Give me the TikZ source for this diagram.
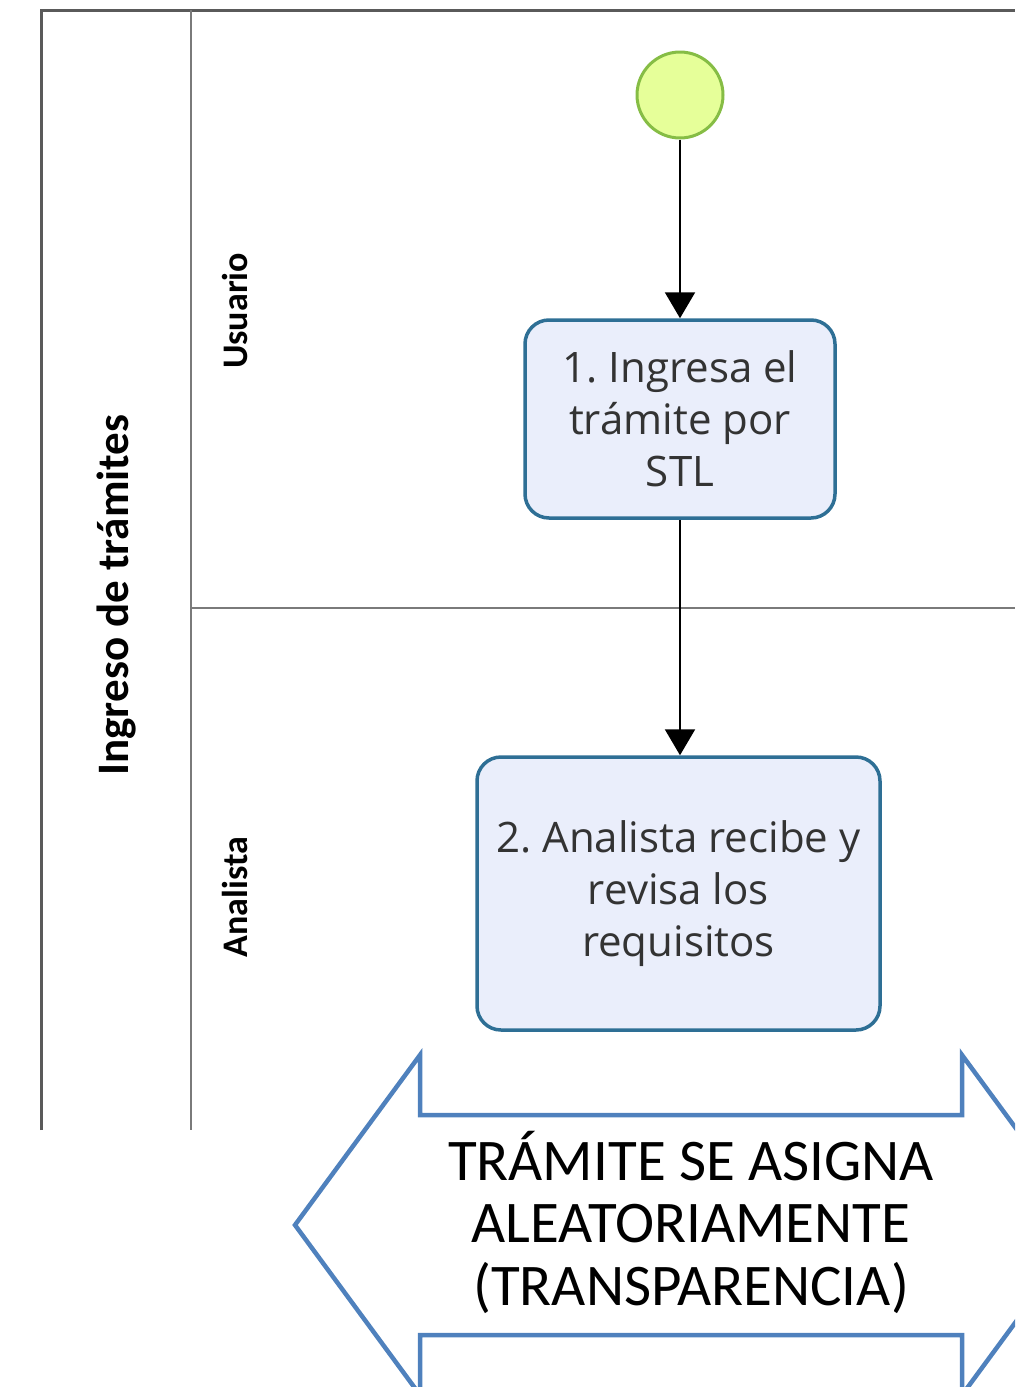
\documentclass[tikz,border=0pt]{standalone}
\usepackage{fontspec}
\setmainfont{Open Sans}
\newfontfamily\calib{Carlito}
\usetikzlibrary{arrows.meta}
\definecolor{poolline}{HTML}{5A5A5A}
\definecolor{laneline}{HTML}{7A7A7A}
\definecolor{startfill}{HTML}{E6FF99}
\definecolor{startdraw}{HTML}{86BD45}
\definecolor{taskfill}{HTML}{EAEEFB}
\definecolor{taskdraw}{HTML}{2E6F95}
\definecolor{bigarrow}{HTML}{4F81BD}
\definecolor{tasktext}{HTML}{333333}
\frenchspacing
\tikzset{
  taskbox/.style={draw=taskdraw, fill=taskfill, line width=3.5pt, rounded corners=24pt,
    align=center, font=\fontsize{42}{52}\selectfont, text=tasktext, inner sep=0pt},
  flow/.style={draw=black, line width=2.2pt, -{Triangle[width=30pt,length=26pt]}},
  lanelabel/.style={rotate=90, font=\calib\bfseries\fontsize{36}{36}\selectfont},
}
\begin{document}
\begin{tikzpicture}[x=1pt,y=-1pt]
\useasboundingbox (0,0) rectangle (1015,1387);
\begin{scope}
\clip (0,0) rectangle (1015,1387);
% pool and lanes
\draw[line width=3pt, draw=poolline] (41,1130) -- (41,10) -- (1015,10);
\draw[line width=2.5pt, draw=laneline] (191,10) -- (191,1130);
\draw[line width=2.5pt, draw=laneline] (191,608) -- (1015,608);
\node[lanelabel, font=\calib\bfseries\fontsize{45}{45}\selectfont] (pool) at (117,595) {Ingreso de trámites};
\node[lanelabel] (lane1) at (235,311) {Usuario};
\node[lanelabel] (lane2) at (235,897) {Analista};
% start event
\node[circle, draw=startdraw, fill=startfill, line width=3pt, minimum size=86pt, inner sep=0pt] (start) at (680,95) {};
% tasks
\node[taskbox, minimum width=310pt, minimum height=198pt] (t1) at (680,419) {1. Ingresa el\\trámite por\\STL};
\node[taskbox, minimum width=403pt, minimum height=273pt] (t2) at (678.5,893.5) {2. Analista recibe y\\revisa los\\requisitos};
\draw[flow] (start.south) -- (t1.north);
\draw[flow] (t1.south) -- (t1.south |- t2.north);
% double arrow
\draw[draw=bigarrow, line width=4.5pt, line join=miter]
  (295,1225) -- (420,1055) -- (420,1115) -- (962,1115) -- (962,1055) -- (1087,1225)
  -- (962,1395) -- (962,1335) -- (420,1335) -- (420,1395) -- cycle;
\node[align=center, font=\calib\fontsize{59}{62.5}\selectfont, inner sep=0pt] (note) at (691,1222)
  {TRÁMITE SE ASIGNA\\ALEATORIAMENTE\\(TRANSPARENCIA)};
\end{scope}
\end{tikzpicture}
\end{document}
